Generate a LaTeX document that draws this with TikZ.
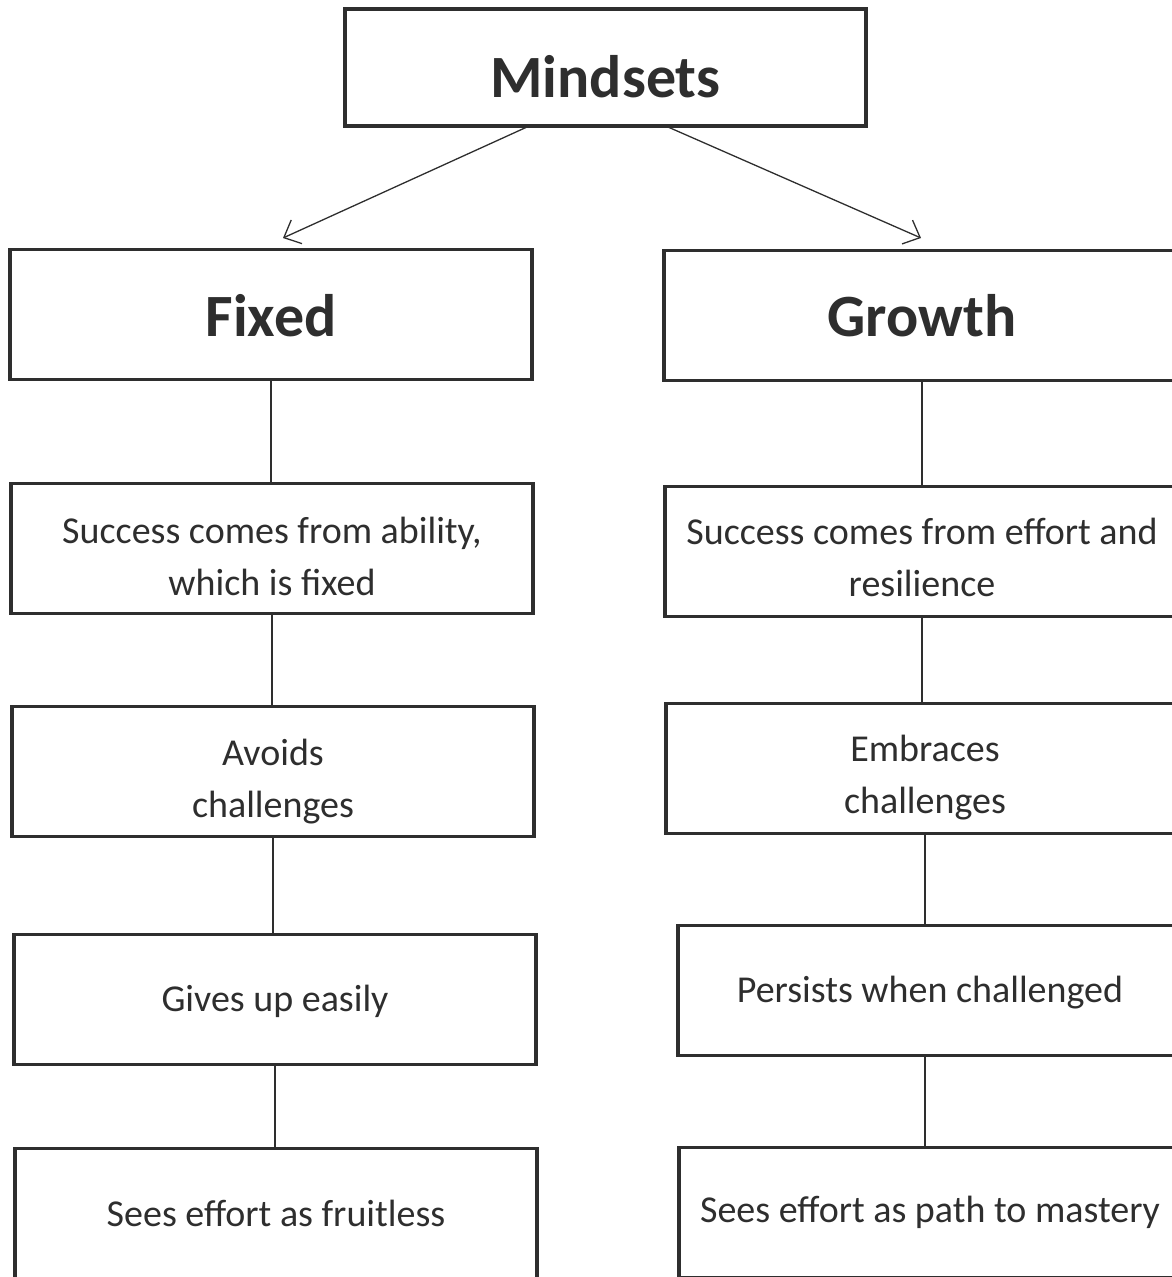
\documentclass[tikz,border=0pt]{standalone}
\usepackage{fontspec}
\setmainfont{Carlito}
\usetikzlibrary{arrows.meta}
\definecolor{ink}{HTML}{2E2E2E}
% lower a one-line label without changing its box
\newcommand{\sunk}[2]{\raisebox{-#1}[\height][\depth]{#2}}
% lower a two-line label without changing its box
\newcommand{\sunkpair}[3]{\raisebox{-#1}[\height][\depth]{\begin{tabular}{@{}c@{}}#2\\#3\end{tabular}}}
\begin{document}
\begin{tikzpicture}[x=1pt,y=-1pt,
  box/.style={draw=ink, line width=3.5pt, minimum width=522pt, minimum height=130pt,
    inner sep=0pt, text=ink, align=center, font=\fontsize{38}{52}\selectfont},
  head/.style={box, font=\fontsize{60}{70}\selectfont\bfseries},
  link/.style={draw=ink, line width=1.3pt},
  branch/.style={link, -{Straight Barb[length=14pt,width=26pt,line width=1.3pt]}}]
\useasboundingbox (0,0) rectangle (1172,1277);
\clip (0,0) rectangle (1172,1277);

% top level
\node[head, minimum width=521pt, minimum height=117pt] (mind) at (605.5,67.5) {\sunk{9pt}{Mindsets}};

% the two mindsets
\node[head] (fixed) at (271,314.5) {\sunk{1pt}{Fixed}};
\node[head, minimum width=516pt] (growth) at (922,315.5) {Growth};

% fixed column
\node[box] (l1) at (272,548.5) {\sunkpair{11pt}{Success comes from ability,}{which is fixed}};
\node[box] (l2) at (273,771.5) {\sunkpair{10pt}{Avoids}{challenges}};
\node[box] (l3) at (275,999.5) {\sunk{2pt}{Gives up easily}};
\node[box] (l4) at (276,1213.5) {Sees effort as fruitless};

% growth column
\node[box, minimum width=514pt] (r1) at (922,551.5) {\sunkpair{9pt}{Success comes from effort and}{resilience}};
\node[box, minimum width=518pt] (r2) at (925,768.5) {\sunkpair{9pt}{Embraces}{challenges}};
\node[box, minimum width=504pt] (r3) at (930,990.5) {\sunk{2pt}{Persists when challenged}};
\node[box, minimum width=502pt] (r4) at (930,1212.5) {Sees effort as path to mastery};

% branching arrows
\coordinate (mL) at (527,127);
\coordinate (mR) at (668,127);
\coordinate (tipL) at (283,238);
\coordinate (tipR) at (921,238);
\draw[branch] (mL) -- (tipL);
\draw[branch] (mR) -- (tipR);

% column connectors
\draw[link] (fixed.south) -- (fixed.south |- l1.north);
\draw[link] (l1.south) -- (l1.south |- l2.north);
\draw[link] (l2.south) -- (l2.south |- l3.north);
\draw[link] (l3.south) -- (l3.south |- l4.north);
\draw[link] (growth.south) -- (growth.south |- r1.north);
\draw[link] (r1.south) -- (r1.south |- r2.north);
\draw[link] (r2.south) -- (r2.south |- r3.north);
\draw[link] (r3.south -| r2.south) -- (r4.north -| r2.south);
\end{tikzpicture}
\end{document}
